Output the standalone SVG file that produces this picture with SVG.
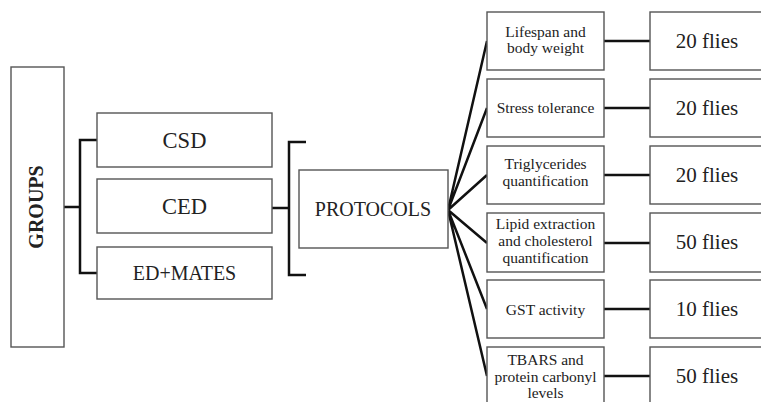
<svg xmlns="http://www.w3.org/2000/svg" width="761" height="402" viewBox="0 0 761 402">
<style>
.box{fill:#fff;stroke:#555;stroke-width:1.4}
.t{font-family:'Liberation Serif','Times New Roman','DejaVu Serif',Times,serif;fill:#222;text-anchor:middle}
.s{font-size:15.5px}
.n{font-size:21px}
.c{fill:none;stroke:#111;stroke-width:2.5}
</style>
<rect width="761" height="402" fill="#fff"/>
<g id="connectors">
<path class="c" d="M64 207H80M97 140H80V273H97"/>
<path class="c" d="M272 208H289M306 142H289V275H306"/>
<path class="c" d="M448 210L487 41M448 210L487 108M448 210L487 175M448 210L487 243M448 210L487 309M448 210L487 376"/>
<path class="c" d="M604 41H650M604 108H650M604 175H650M604 243H650M604 309H650M604 376H650"/>
</g>
<g id="groups"><rect class="box" x="11" y="67" width="53" height="280"/><text class="t" font-family="Liberation Serif, serif" font-size="20" font-weight="bold" transform="translate(43 207) rotate(-90)">GROUPS</text></g>
<g id="csd"><rect class="box" x="97" y="113" width="175" height="54"/><text class="t" font-size="22.5" x="184.5" y="148">CSD</text></g>
<g id="ced"><rect class="box" x="97" y="179" width="175" height="54"/><text class="t" font-size="22.5" x="184.5" y="214">CED</text></g>
<g id="edmates"><rect class="box" x="97" y="247" width="175" height="52"/><text class="t" font-size="20" x="184.5" y="280">ED+MATES</text></g>
<g id="protocols"><rect class="box" x="299" y="170" width="149" height="78"/><text class="t" font-size="20" x="373" y="216">PROTOCOLS</text></g>
<g id="p1"><rect class="box" x="487" y="12" width="117" height="58"/><text class="t s" x="545.5" y="37">Lifespan and</text><text class="t s" x="545.5" y="53">body weight</text></g>
<g id="p2"><rect class="box" x="487" y="79" width="117" height="58"/><text class="t s" x="545.5" y="113">Stress tolerance</text></g>
<g id="p3"><rect class="box" x="487" y="146" width="117" height="58"/><text class="t s" x="545.5" y="169">Triglycerides</text><text class="t s" x="545.5" y="186">quantification</text></g>
<g id="p4"><rect class="box" x="487" y="213" width="117" height="59"/><text class="t s" x="545.5" y="229">Lipid extraction</text><text class="t s" x="545.5" y="246">and cholesterol</text><text class="t s" x="545.5" y="263">quantification</text></g>
<g id="p5"><rect class="box" x="487" y="280" width="117" height="58"/><text class="t s" x="545.5" y="315">GST activity</text></g>
<g id="p6"><rect class="box" x="487" y="347" width="117" height="70"/><text class="t s" x="545.5" y="365">TBARS and</text><text class="t s" x="545.5" y="382">protein carbonyl</text><text class="t s" x="545.5" y="398">levels</text></g>
<g id="f1"><rect class="box" x="650" y="12" width="130" height="58"/><text class="t n" x="707" y="48">20 flies</text></g>
<g id="f2"><rect class="box" x="650" y="79" width="130" height="58"/><text class="t n" x="707" y="115">20 flies</text></g>
<g id="f3"><rect class="box" x="650" y="146" width="130" height="58"/><text class="t n" x="707" y="182">20 flies</text></g>
<g id="f4"><rect class="box" x="650" y="213" width="130" height="59"/><text class="t n" x="707" y="249">50 flies</text></g>
<g id="f5"><rect class="box" x="650" y="280" width="130" height="58"/><text class="t n" x="707" y="316">10 flies</text></g>
<g id="f6"><rect class="box" x="650" y="347" width="130" height="70"/><text class="t n" x="707" y="383">50 flies</text></g>
</svg>
